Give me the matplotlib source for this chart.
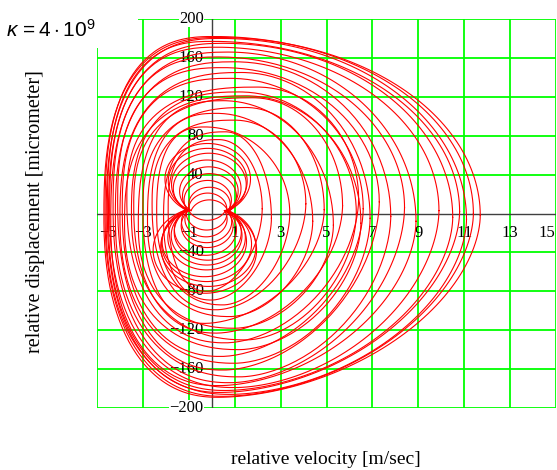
import numpy as np
import matplotlib
matplotlib.use("Agg")
import matplotlib.pyplot as plt
from matplotlib.patches import Rectangle

# ---------------- data ----------------
x_ticks = [-5, -3, -1, 1, 3, 5, 7, 9, 11, 13, 15]
y_ticks = [-200, -160, -120, -80, -40, 0, 40, 80, 120, 160, 200]
y_tick_labels = [-200, -160, -120, -80, -40, 40, 80, 120, 160, 200]

# outer loops (velocity in m/sec, displacement in micrometer)
loop_left = [-1.9, -2.1, -2.4, -2.6, -2.8, -3.0, -3.2, -3.4, -3.5, -3.7, -3.8, -3.9,
             -4.0, -4.1, -4.2, -4.3, -4.4, -4.45, -4.5, -4.55, -4.6, -4.65, -4.7]
loop_right = [2.2, 2.6, 3.4, 4.1, 4.4, 4.9, 5.3, 5.7, 6.3, 6.4, 6.5, 6.6,
              6.9, 7.3, 7.8, 8.4, 8.9, 9.9, 10.5, 10.8, 11.1, 11.4, 11.7]
loop_top = [76, 84, 89, 96, 103, 109, 116, 119, 125, 130, 121, 139,
            145, 150, 156, 161, 166, 171, 175, 177, 180, 182, 181]
loop_bottom = [-80, -89, -94, -99, -106, -113, -118, -123, -130, -133, -140, -147,
               -154, -161, -168, -174, -177, -179, -182, -184, -186, -188, -189]
loop_top_x = [0.3, 0.6, -0.3, 1.0, 0.2, 1.5, 0.5, 1.8, 1.2, 2.0, 1.5, 0.8,
              1.3, 0.5, 1.0, 0.3, 0.7, 0.2, 0.5, 0.0, 0.4, 0.1, 0.3]
loop_bottom_x = [-0.2, 0.0, 0.5, 0.2, 0.8, -0.3, 1.0, 0.2, 1.5, 0.6, 1.2, 0.4,
                 1.0, 0.5, 1.2, 0.8, 0.3, 1.0, 0.6, 0.4, 0.8, 0.5, 0.3]
loop_side_y = [5, -5, 0, 10, -8, 4, -12, 8, 0, 15, -10, 5,
               -5, 12, -3, 6, -8, 3, -4, 2, -6, 0, -2]

# inner figure-eight lobes: apex of upper arcs / lower arcs and where they cross y≈0
lobe_top = [14, 21, 27, 34, 41, 48, 55, 62, 67, 72]
lobe_top_left = [-0.9, -1.0, -0.95, -1.05, -1.0, -0.9, -1.1, -1.0, -0.95, -1.05]
lobe_top_right = [0.7, 0.65, 0.75, 0.7, 0.8, 0.65, 0.7, 0.75, 0.6, 0.7]
lobe_bottom = [-7, -17, -24, -30, -35, -43, -48, -53, -58, -65, -70, -75, -82]
lobe_bottom_left = [-1.0, -1.1, -1.05, -1.15, -1.0, -1.2, -1.1, -1.05, -1.15, -1.2,
                    -1.1, -1.0, -1.2]
lobe_bottom_right = [0.6, 0.65, 0.55, 0.7, 0.6, 0.65, 0.75, 0.6, 0.7, 0.55,
                     0.65, 0.7, 0.6]

# ---------------- figure ----------------
W, H = 557, 470
fig = plt.figure(figsize=(W / 100, H / 100), dpi=100)
L, R, T, B = 97, 556, 19, 408
ax = fig.add_axes([L / W, 1 - B / H, (R - L) / W, (B - T) / H])
ax.set_xlim(-5, 15)
ax.set_ylim(-200, 200)
for s in ax.spines.values():
    s.set_visible(False)
ax.set_xticks([])
ax.set_yticks([])

green = "#00ff00"
for xv in x_ticks:
    ax.axvline(xv, color=green, lw=1.3, zorder=1)
for yv in y_ticks:
    if yv != 0:
        ax.axhline(yv, color=green, lw=1.3, zorder=1)
ax.axhline(0, color="#404040", lw=1.0, zorder=1.5)
ax.axvline(0, color="#404040", lw=1.0, zorder=1.5)

sx = (R - L) / 20.0      # px per velocity unit
sy = (B - T) / 400.0     # px per micrometer


def quadrant(x0, y0, x1, y1, p, n=60):
    t = np.linspace(0, np.pi / 2, n)
    xs = x0 + (x1 - x0) * np.cos(t) ** (2.0 / p)
    ys = y0 + (y1 - y0) * np.sin(t) ** (2.0 / p)
    return xs, ys


def loop(xl, xr, yt, yb, xt, xb, ym):
    x1, y1 = quadrant(xt, ym, xr, yt, 2.0)
    x2, y2 = quadrant(xt, ym, xl, yt, 2.6)
    x3, y3 = quadrant(xb, ym, xl, yb, 2.3)
    x4, y4 = quadrant(xb, ym, xr, yb, 1.8)
    xs = np.concatenate([x1, x2[::-1], x3, x4[::-1]])
    ys = np.concatenate([y1, y2[::-1], y3, y4[::-1]])
    return xs, ys


def arc(xa, xb, y0, h, k=1.2, n=80):
    # circular arc in a horizontally compressed pixel space, then stretched
    c = (xb - xa) * sx / k
    s = abs(h - y0) * sy
    Rr = (c * c / 4 + s * s) / (2 * s)
    xm = (xa + xb) / 2
    sign = 1 if h > y0 else -1
    th_r = np.arctan2(-(s - Rr), c / 2)
    th = np.linspace(th_r, np.pi - th_r, n)
    xs = xm + k * Rr * np.cos(th) / sx
    ys = y0 + sign * ((s - Rr) + Rr * np.sin(th)) / sy
    return xs, ys


red = "#ff0000"
lw = 0.8
for vals in zip(loop_left, loop_right, loop_top, loop_bottom,
                loop_top_x, loop_bottom_x, loop_side_y):
    xs, ys = loop(*vals)
    ax.plot(xs, ys, color=red, lw=lw, zorder=3)

for h, xa, xb in zip(lobe_top, lobe_top_left, lobe_top_right):
    xs, ys = arc(xa, xb, 3.0, h)
    ax.plot(xs, ys, color=red, lw=lw, zorder=3)
for h, xa, xb in zip(lobe_bottom, lobe_bottom_left, lobe_bottom_right):
    xs, ys = arc(xa, xb, 3.0, h)
    ax.plot(xs, ys, color=red, lw=lw, zorder=3)

# tick labels
tfont = dict(family="Liberation Serif", fontsize=12, color="black", zorder=2)
for xv in x_ticks:
    lab = str(xv).replace("-", "\u2212")
    if xv == x_ticks[0]:
        ax.text(xv + 0.1, -20, lab, ha="left", va="center", **tfont)
    elif xv == x_ticks[-1]:
        ax.text(xv - 0.05, -20, lab, ha="right", va="center", **tfont)
    else:
        ax.text(xv, -20, lab, ha="center", va="center", **tfont)
for yv in y_tick_labels:
    lab = str(yv).replace("-", "\u2212")
    ax.text(-0.35, yv, lab, ha="right", va="center",
            bbox=dict(facecolor="white", edgecolor="none", pad=0.3) if abs(yv) == 200 else None,
            **tfont)

fig.text(326 / W, 1 - 459 / H, "relative velocity [m/sec]", ha="center", va="center",
         family="Liberation Serif", fontsize=14)
fig.text(36 / W, 1 - 212 / H, "relative displacement [micrometer]", ha="center",
         va="center", rotation=90, family="Liberation Serif", fontsize=14.5)

# white label region with kappa
fig.patches.append(Rectangle((0, 1 - 48 / H), 138 / W, 48 / H, transform=fig.transFigure,
                             facecolor="white", edgecolor="none", zorder=5))
plt.rcParams["mathtext.fontset"] = "custom"
plt.rcParams["mathtext.rm"] = "Liberation Sans"
plt.rcParams["mathtext.it"] = "Liberation Sans:italic"
fig.text(6 / W, 1 - 30 / H, r"$\kappa\,=4\cdot10^{9}$", ha="left", va="center",
         fontsize=15, zorder=6)

fig.savefig("out.png", dpi=100)
